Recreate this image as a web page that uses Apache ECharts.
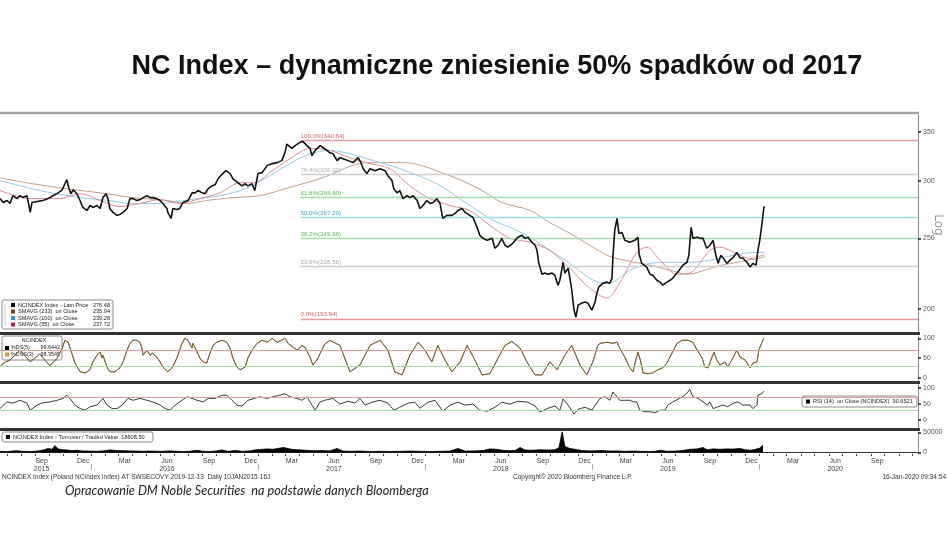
<!DOCTYPE html>
<html><head><meta charset="utf-8">
<script src="https://cdn.jsdelivr.net/npm/echarts@6/dist/echarts.min.js"></script>
<style>html,body{margin:0;padding:0;background:#fff}#c{width:948px;height:533px}</style>
</head><body><div id="c"></div><script>
// ---------- DATA ----------
const price = [
['2015-06-16',283.4],['2015-06-23',280.0],['2015-07-01',281.7],['2015-07-08',279.1],['2015-07-14',286.0],['2015-07-23',283.4],['2015-07-30',286.0],['2015-08-05',284.3],['2015-08-14',286.0],['2015-08-16',287.8],['2015-08-21',271.3],['2015-08-25',280.0],['2015-09-05',280.8],['2015-09-18',281.7],['2015-09-29',283.4],['2015-10-10',286.0],['2015-10-21',288.6],['2015-10-30',291.4],['2015-11-05',297.0],['2015-11-09',300.9],['2015-11-14',292.3],['2015-11-18',287.8],['2015-11-23',291.4],['2015-12-01',287.8],['2015-12-08',281.7],['2015-12-14',275.6],['2015-12-23',273.0],['2015-12-30',277.3],
['2016-01-05',275.6],['2016-01-14',277.3],['2016-01-21',274.7],['2016-01-27',284.3],['2016-02-03',287.8],['2016-02-07',283.4],['2016-02-11',274.7],['2016-02-18',271.3],['2016-02-27',268.8],['2016-03-04',269.6],['2016-03-11',271.3],['2016-03-20',274.7],['2016-03-26',283.4],['2016-04-02',283.4],['2016-04-10',281.7],['2016-04-17',282.5],['2016-04-24',284.3],['2016-05-02',286.0],['2016-05-09',284.3],['2016-05-15',284.3],['2016-05-24',283.4],['2016-05-31',281.7],['2016-06-06',279.1],['2016-06-15',274.7],['2016-06-17',271.3],['2016-06-24',266.3],['2016-06-28',274.7],['2016-07-07',273.8],['2016-07-13',274.7],['2016-07-20',280.0],['2016-07-24',281.7],['2016-07-31',281.7],['2016-08-09',288.6],['2016-08-15',288.6],['2016-08-22',290.7],['2016-08-31',288.6],['2016-09-06',287.8],['2016-09-13',292.3],['2016-09-21',295.0],['2016-09-28',296.0],['2016-10-05',301.9],['2016-10-15',306.7],['2016-10-22',309.5],['2016-10-31',306.7],['2016-11-06',301.9],['2016-11-17',298.0],['2016-11-26',295.0],['2016-12-03',297.0],['2016-12-09',295.0],['2016-12-18',297.0],['2016-12-24',290.7],['2016-12-31',306.7],
['2017-01-09',307.6],['2017-01-20',314.5],['2017-01-31',316.5],['2017-02-11',317.5],['2017-02-21',319.5],['2017-02-28',327.5],['2017-03-04',336.5],['2017-03-15',332.0],['2017-03-22',335.0],['2017-04-02',338.5],['2017-04-08',339.5],['2017-04-17',335.0],['2017-04-24',332.0],['2017-04-28',324.5],['2017-05-05',330.0],['2017-05-16',335.0],['2017-05-22',333.0],['2017-05-31',330.0],['2017-06-06',327.5],['2017-06-13',326.5],['2017-06-22',319.5],['2017-06-28',322.5],['2017-07-05',321.5],['2017-07-16',319.5],['2017-07-27',317.5],['2017-08-07',322.5],['2017-08-13',317.5],['2017-08-18',311.5],['2017-08-26',306.7],['2017-09-02',311.5],['2017-09-13',309.5],['2017-09-24',311.5],['2017-10-05',309.5],['2017-10-11',304.7],['2017-10-20',300.0],['2017-10-24',292.3],['2017-10-31',288.6],['2017-11-06',290.7],['2017-11-13',283.4],['2017-11-22',286.0],['2017-11-28',284.3],['2017-12-05',286.0],['2017-12-14',281.7],['2017-12-20',274.7],['2017-12-27',277.3],
['2018-01-04',281.7],['2018-01-11',279.1],['2018-01-18',280.0],['2018-01-26',283.4],['2018-02-02',279.1],['2018-02-08',266.3],['2018-02-17',268.8],['2018-02-28',268.8],['2018-03-07',270.5],['2018-03-13',273.0],['2018-03-22',274.7],['2018-03-29',271.3],['2018-04-08',268.8],['2018-04-15',267.1],['2018-04-24',258.8],['2018-04-30',252.4],['2018-05-07',250.0],['2018-05-16',248.4],['2018-05-27',250.0],['2018-06-02',242.3],['2018-06-09',244.6],['2018-06-17',250.0],['2018-06-24',244.6],['2018-06-30',243.1],['2018-07-11',246.1],['2018-07-22',250.8],['2018-07-31',252.4],['2018-08-07',250.0],['2018-08-13',250.8],['2018-08-22',246.9],['2018-08-29',244.6],['2018-09-02',240.7],['2018-09-06',231.0],['2018-09-13',223.2],['2018-09-19',224.0],['2018-09-26',223.2],['2018-10-05',224.0],['2018-10-11',222.5],['2018-10-18',215.6],['2018-10-22',219.0],['2018-10-29',231.8],['2018-11-02',224.0],['2018-11-09',227.5],['2018-11-13',220.5],['2018-11-17',212.3],['2018-11-22',199.3],['2018-11-26',195.0],['2018-12-01',202.5],['2018-12-09',203.8],['2018-12-16',204.5],['2018-12-22',203.8],['2018-12-31',199.3],
['2019-01-07',204.5],['2019-01-11',210.3],['2019-01-15',214.3],['2019-01-24',217.0],['2019-02-02',217.7],['2019-02-08',217.0],['2019-02-13',220.3],['2019-02-15',235.8],['2019-02-19',256.4],['2019-02-24',266.3],['2019-02-28',253.9],['2019-03-07',254.7],['2019-03-13',248.4],['2019-03-24',246.9],['2019-04-04',248.4],['2019-04-11',250.8],['2019-04-13',238.3],['2019-04-19',231.0],['2019-04-30',228.3],['2019-05-07',223.2],['2019-05-13',222.5],['2019-05-22',219.0],['2019-05-29',217.7],['2019-06-04',215.6],['2019-06-13',217.7],['2019-06-20',219.0],['2019-06-26',220.5],['2019-07-05',224.0],['2019-07-12',227.0],['2019-07-18',229.7],['2019-07-27',231.8],['2019-07-31',237.0],['2019-08-05',258.8],['2019-08-09',250.0],['2019-08-18',250.8],['2019-08-25',250.0],['2019-08-31',250.0],['2019-09-08',242.3],['2019-09-15',244.6],['2019-09-22',248.4],['2019-09-28',237.0],['2019-10-03',231.0],['2019-10-09',237.0],['2019-10-14',235.0],['2019-10-22',231.0],['2019-10-29',233.3],['2019-11-04',235.0],['2019-11-13',239.0],['2019-11-20',235.0],['2019-11-26',235.0],['2019-12-05',231.8],['2019-12-12',228.3],['2019-12-18',231.0],['2019-12-25',229.7],['2019-12-29',240.7],['2020-01-02',248.4],['2020-01-07',262.1],['2020-01-11',275.6],['2020-01-13',276.48]
];
const sma233 = [
['2015-06-16',302.5],['2015-08-27',297.0],['2015-11-09',292.3],['2016-01-21',288.6],['2016-04-02',284.3],['2016-06-15',281.7],['2016-07-29',279.1],['2016-09-10',281.7],['2016-11-06',284.3],['2017-01-04',286.0],['2017-03-07',293.2],['2017-05-20',302.5],['2017-07-24',314.5],['2017-08-28',317.5],['2017-10-11',317.5],['2017-11-17',317.5],['2017-12-24',314.5],['2018-02-06',307.6],['2018-03-22',300.0],['2018-05-05',290.7],['2018-06-17',280.0],['2018-08-18',273.0],['2018-09-30',262.7],['2018-11-13',254.0],['2018-12-26',244.6],['2019-02-08',236.2],['2019-03-24',232.5],['2019-05-07',229.7],['2019-06-20',226.0],['2019-07-27',223.2],['2019-09-30',228.8],['2019-11-13',231.8],['2019-12-27',234.5],['2020-01-13',235.94]
];
const sma100 = [
['2015-06-16',300.0],['2015-09-11',290.7],['2015-12-08',284.3],['2016-02-11',281.7],['2016-03-26',279.1],['2016-05-31',279.1],['2016-08-04',282.5],['2016-10-09',286.0],['2016-12-03',292.3],['2017-01-15',301.9],['2017-03-11',316.5],['2017-04-24',326.5],['2017-06-06',330.0],['2017-07-20',326.5],['2017-09-02',320.5],['2017-11-06',311.5],['2018-01-26',297.0],['2018-04-08',277.3],['2018-05-29',264.6],['2018-07-05',258.8],['2018-08-18',250.8],['2018-09-30',240.7],['2018-11-13',231.0],['2018-12-26',220.5],['2019-01-24',217.0],['2019-02-15',217.7],['2019-03-24',226.0],['2019-05-07',231.0],['2019-06-20',231.8],['2019-08-02',231.8],['2019-09-15',233.3],['2019-11-26',238.3],['2020-01-13',239.28]
];
const sma55 = [
['2015-06-16',290.7],['2015-08-21',283.4],['2015-10-25',283.4],['2015-12-08',287.8],['2016-01-21',281.7],['2016-03-04',276.4],['2016-04-17',279.1],['2016-05-31',282.5],['2016-07-13',279.1],['2016-08-26',283.4],['2016-10-09',288.6],['2016-11-22',298.0],['2016-12-24',298.0],['2017-01-26',307.6],['2017-03-11',321.5],['2017-04-24',332.0],['2017-06-06',330.0],['2017-07-20',322.5],['2017-09-02',316.5],['2017-10-16',311.5],['2017-11-28',295.0],['2018-01-11',283.4],['2018-02-24',277.3],['2018-04-08',273.0],['2018-05-22',260.4],['2018-07-05',250.0],['2018-08-18',246.9],['2018-09-30',240.7],['2018-11-13',227.5],['2018-12-26',213.6],['2019-02-02',207.0],['2019-03-02',217.0],['2019-04-08',239.0],['2019-04-30',243.1],['2019-05-29',233.3],['2019-07-05',223.2],['2019-08-02',224.0],['2019-09-15',240.7],['2019-10-07',243.1],['2019-11-13',238.3],['2019-12-12',234.5],['2020-01-13',237.72]
];
const stochDS = [
['2015-06-16',27],['2015-06-23',37],['2015-07-08',45],['2015-07-30',70],['2015-08-21',40],['2015-09-11',60],['2015-10-03',30],['2015-10-19',50],['2015-10-30',75],['2015-11-05',95],['2015-11-12',90],['2015-11-20',62],['2015-11-27',37],['2015-12-08',15],['2015-12-19',12],['2015-12-30',20],['2016-01-05',40],['2016-01-14',57],['2016-01-21',65],['2016-01-25',50],['2016-01-27',57],['2016-02-05',27],['2016-02-11',15],['2016-02-22',15],['2016-03-04',25],['2016-03-11',40],['2016-03-20',70],['2016-03-26',87],['2016-04-02',95],['2016-04-10',95],['2016-04-17',90],['2016-04-21',77],['2016-04-24',57],['2016-05-02',70],['2016-05-09',57],['2016-05-15',62],['2016-05-24',52],['2016-05-31',40],['2016-06-06',27],['2016-06-17',15],['2016-06-26',25],['2016-07-03',40],['2016-07-09',57],['2016-07-18',87],['2016-07-24',100],['2016-07-31',95],['2016-08-09',75],['2016-08-11',87],['2016-08-20',65],['2016-08-26',50],['2016-09-02',40],['2016-09-10',37],['2016-09-17',62],['2016-09-24',82],['2016-10-02',90],['2016-10-13',95],['2016-10-24',90],['2016-10-31',75],['2016-11-06',50],['2016-11-15',27],['2016-11-22',20],['2016-12-03',27],['2016-12-09',50],['2016-12-18',70],['2016-12-29',87],['2017-01-09',95],['2017-01-20',90],['2017-01-31',100],['2017-02-11',90],['2017-02-21',95],['2017-02-28',100],['2017-03-07',87],['2017-03-18',77],['2017-03-28',70],['2017-04-06',82],['2017-04-13',77],['2017-04-24',52],['2017-04-30',32],['2017-05-09',45],['2017-05-16',62],['2017-05-26',85],['2017-06-06',95],['2017-06-28',82],['2017-07-20',15],['2017-08-11',32],['2017-09-02',82],['2017-09-24',95],['2017-10-11',70],['2017-10-26',15],['2017-11-11',7],['2017-11-28',57],['2017-12-16',90],['2017-12-31',70],['2018-01-15',40],['2018-01-28',82],['2018-02-13',45],['2018-02-28',15],['2018-03-18',40],['2018-04-02',82],['2018-04-19',45],['2018-05-05',7],['2018-05-22',10],['2018-06-09',50],['2018-06-24',82],['2018-07-09',92],['2018-07-27',75],['2018-08-11',40],['2018-08-29',7],['2018-09-13',7],['2018-09-30',40],['2018-10-16',20],['2018-11-02',57],['2018-11-17',82],['2018-12-05',32],['2018-12-20',7],['2019-01-02',40],['2019-01-13',82],['2019-01-18',87],['2019-02-02',90],['2019-02-15',87],['2019-02-24',90],['2019-03-02',75],['2019-03-13',52],['2019-03-24',25],['2019-03-31',15],['2019-04-06',45],['2019-04-11',65],['2019-04-17',40],['2019-04-22',12],['2019-05-03',10],['2019-05-13',12],['2019-05-24',20],['2019-06-04',25],['2019-06-13',37],['2019-06-24',62],['2019-07-05',87],['2019-07-16',95],['2019-07-29',95],['2019-08-09',90],['2019-08-18',70],['2019-08-29',50],['2019-09-04',27],['2019-09-11',25],['2019-09-19',50],['2019-09-24',65],['2019-09-30',45],['2019-10-07',32],['2019-10-18',40],['2019-10-24',27],['2019-11-02',45],['2019-11-13',70],['2019-11-20',52],['2019-12-01',45],['2019-12-12',25],['2019-12-18',37],['2019-12-27',40],['2019-12-31',70],['2020-01-07',90],['2020-01-11',99.64]
];
const rsi14 = [
['2015-06-16',36],['2015-07-01',57],['2015-07-14',53],['2015-07-30',62],['2015-08-14',53],['2015-08-21',31],['2015-09-05',47],['2015-09-18',54],['2015-10-03',57],['2015-10-19',62],['2015-11-01',68],['2015-11-09',78],['2015-11-16',68],['2015-11-27',47],['2015-12-08',36],['2015-12-19',31],['2015-12-30',42],['2016-01-14',47],['2016-01-27',68],['2016-02-05',47],['2016-02-16',36],['2016-02-27',36],['2016-03-09',47],['2016-03-22',68],['2016-04-02',62],['2016-04-17',68],['2016-05-02',62],['2016-05-15',57],['2016-05-31',47],['2016-06-11',36],['2016-06-22',31],['2016-07-03',47],['2016-07-13',57],['2016-07-29',73],['2016-08-09',68],['2016-08-20',62],['2016-09-02',57],['2016-09-13',68],['2016-09-28',68],['2016-10-13',78],['2016-10-24',78],['2016-11-04',62],['2016-11-15',47],['2016-11-26',44],['2016-12-09',62],['2016-12-24',68],['2017-01-04',73],['2017-01-20',68],['2017-02-02',73],['2017-02-17',78],['2017-02-28',83],['2017-03-11',73],['2017-03-26',68],['2017-04-06',62],['2017-04-17',73],['2017-04-28',47],['2017-05-05',31],['2017-05-16',57],['2017-05-26',62],['2017-06-13',68],['2017-06-28',50],['2017-07-16',59],['2017-07-31',53],['2017-08-11',68],['2017-08-22',47],['2017-09-06',56],['2017-09-24',62],['2017-10-11',53],['2017-10-24',31],['2017-11-06',40],['2017-11-24',53],['2017-12-09',56],['2017-12-20',37],['2018-01-07',56],['2018-01-22',62],['2018-02-08',28],['2018-02-24',47],['2018-03-13',56],['2018-03-29',47],['2018-04-15',50],['2018-04-30',31],['2018-05-16',28],['2018-06-02',40],['2018-06-17',56],['2018-07-05',50],['2018-07-22',59],['2018-08-13',56],['2018-08-29',44],['2018-09-08',25],['2018-09-26',37],['2018-10-11',44],['2018-10-22',31],['2018-10-29',66],['2018-11-09',47],['2018-11-22',19],['2018-12-01',34],['2018-12-16',40],['2018-12-31',31],['2019-01-09',50],['2019-01-18',68],['2019-01-29',73],['2019-02-08',62],['2019-02-15',88],['2019-02-19',94],['2019-02-24',73],['2019-03-02',62],['2019-03-13',62],['2019-03-24',62],['2019-03-31',57],['2019-04-08',57],['2019-04-15',31],['2019-04-26',26],['2019-05-07',26],['2019-05-18',23],['2019-05-29',31],['2019-06-09',31],['2019-06-15',47],['2019-06-26',57],['2019-07-11',68],['2019-07-22',78],['2019-07-29',88],['2019-08-02',96],['2019-08-09',73],['2019-08-20',68],['2019-08-31',57],['2019-09-09',47],['2019-09-15',57],['2019-09-22',36],['2019-10-03',42],['2019-10-14',47],['2019-10-24',42],['2019-11-04',52],['2019-11-15',57],['2019-11-26',47],['2019-12-12',47],['2019-12-18',36],['2019-12-27',47],['2019-12-29',78],['2020-01-07',83],['2020-01-11',90.65]
];
const turnover = [
['2015-06-16',3000],['2015-06-27',2500],['2015-07-08',3000],['2015-07-23',4500],['2015-08-03',3000],['2015-08-21',2500],['2015-09-05',3500],['2015-09-18',6000],['2015-09-29',10000],['2015-10-08',8000],['2015-10-14',17500],['2015-10-21',9000],['2015-10-30',7000],['2015-11-09',6500],['2015-11-20',5000],['2015-12-01',5500],['2015-12-14',4000],['2015-12-30',3500],['2016-01-14',3000],['2016-01-27',4000],['2016-02-11',6500],['2016-02-27',5000],['2016-03-11',4500],['2016-03-26',4000],['2016-04-10',3500],['2016-04-24',3000],['2016-05-09',3500],['2016-05-24',3000],['2016-06-06',3000],['2016-06-22',4000],['2016-07-07',3000],['2016-07-20',2500],['2016-08-04',3000],['2016-08-20',5500],['2016-09-02',3000],['2016-09-17',2500],['2016-10-02',4000],['2016-10-13',6500],['2016-10-26',3000],['2016-11-11',5000],['2016-11-26',3000],['2016-12-14',4000],['2016-12-24',6500],['2017-01-04',7500],['2017-01-20',9000],['2017-02-02',8000],['2017-02-17',11000],['2017-02-26',12500],['2017-03-04',10500],['2017-03-15',8000],['2017-03-26',7000],['2017-04-08',6000],['2017-04-24',5000],['2017-05-09',4500],['2017-05-22',5000],['2017-06-06',4000],['2017-06-22',10000],['2017-07-05',3500],['2017-07-20',3000],['2017-08-11',3500],['2017-09-02',2500],['2017-09-24',3000],['2017-10-16',2500],['2017-11-06',3000],['2017-11-28',3500],['2017-12-20',3000],['2018-01-11',2500],['2018-02-02',3000],['2018-02-24',3500],['2018-03-13',10000],['2018-03-29',3500],['2018-04-19',4000],['2018-05-07',5000],['2018-05-22',9000],['2018-06-06',8000],['2018-06-19',5500],['2018-07-05',4500],['2018-07-16',5000],['2018-07-27',12500],['2018-08-07',6000],['2018-08-22',5500],['2018-09-08',7000],['2018-09-26',6000],['2018-10-11',7000],['2018-10-20',12000],['2018-10-27',52000],['2018-11-02',15000],['2018-11-13',10000],['2018-11-24',8000],['2018-12-09',5000],['2018-12-26',4000],['2019-01-11',4500],['2019-01-24',5000],['2019-02-08',3500],['2019-02-24',4000],['2019-03-13',3000],['2019-03-31',3500],['2019-04-15',3000],['2019-05-03',2500],['2019-05-18',3000],['2019-05-29',5500],['2019-06-13',3000],['2019-07-01',3500],['2019-07-18',5000],['2019-08-02',8000],['2019-08-18',9000],['2019-08-31',12500],['2019-09-09',7000],['2019-09-22',9000],['2019-10-07',8000],['2019-10-22',9000],['2019-11-04',8500],['2019-11-20',10000],['2019-12-01',7000],['2019-12-12',5500],['2019-12-22',7500],['2020-01-02',11000],['2020-01-09',18608.5]
];
const fibLevels = [340.64, 306.02, 284.60, 267.29, 249.98, 228.56, 193.94];
const fibNames = ['100.0%', '76.4%', '61.8%', '50.0%', '38.2%', '23.6%', '0.0%'];
const fibStart = '2017-04-03';
const priceTicks = [200, 250, 300, 350];
const oscTicks = [0, 50, 100];
const volTicks = [0, 50000];
const oscLevels = [70, 30];
const monthLabelDates = ['2015-09-15','2015-12-15','2016-03-15','2016-06-15','2016-09-15','2016-12-15','2017-03-15','2017-06-15','2017-09-15','2017-12-15','2018-03-15','2018-06-15','2018-09-15','2018-12-15','2019-03-15','2019-06-15','2019-09-15','2019-12-15','2020-03-15','2020-06-15','2020-09-15'];
const monthLabels = ['Sep\n2015','Dec','Mar','Jun\n2016','Sep','Dec','Mar','Jun\n2017','Sep','Dec','Mar','Jun\n2018','Sep','Dec','Mar','Jun\n2019','Sep','Dec','Mar','Jun\n2020','Sep'];
const yearStarts = ['2016-01-01','2017-01-01','2018-01-01','2019-01-01','2020-01-01'];
const xMin = '2015-06-16', xMax = '2020-12-13';

// ---------- CHART ----------
const T = s => echarts.number.parseDate(s).getTime();
const monthStarts = [];
for (let y = 2015; y <= 2020; y++) for (let m = 1; m <= 12; m++) {
  const s = y + '-' + String(m).padStart(2, '0') + '-01';
  if (s > xMin && s <= xMax) monthStarts.push(T(s));
}
const labelTimes = monthLabelDates.map(T);
const SMALL = 'Liberation Sans';
const fibLine = ['#e3a0a0', '#cfcfcf', '#a6dca6', '#a2dce8', '#a6dca6', '#cfcfcf', '#e89a9a'];
const fibText = ['#d06060', '#b0b0b0', '#55b855', '#3aa8d8', '#55b855', '#a8a8a8', '#e06060'];

const chart = echarts.init(document.getElementById('c'), null, {renderer: 'canvas', width: 948, height: 533});
const grids = [
  {left: 0, width: 918, top: 115, height: 217},
  {left: 0, width: 918, top: 336, height: 45},
  {left: 0, width: 918, top: 385, height: 43},
  {left: 0, width: 918, top: 432, height: 22}
];
const hiddenX = i => ({type: 'time', gridIndex: i, min: xMin, max: xMax, show: false});
const rightY = (gi, type, min, max, vals, extra) => Object.assign({
  type, gridIndex: gi, position: 'right', min, max,
  axisLine: {show: true, lineStyle: {color: '#8a8a8a', width: 1}},
  axisTick: {show: true, customValues: vals, length: 3, inside: false, lineStyle: {color: '#222', width: 1.5}},
  axisLabel: {show: true, customValues: vals, fontSize: 7, color: '#555', margin: 5, fontFamily: SMALL, formatter: v => String(v)},
  splitLine: {show: false}
}, extra || {});
const levelLines = {
  silent: true, symbol: ['none', 'none'], animation: false, label: {show: false},
  data: [
    {yAxis: oscLevels[0], lineStyle: {color: '#ec9a9a', width: 1, type: 'solid'}},
    {yAxis: oscLevels[1], lineStyle: {color: '#a6dca6', width: 1, type: 'solid'}}
  ]
};
const line = (name, data, xi, color, w, extra) => Object.assign({
  name, type: 'line', data, xAxisIndex: xi, yAxisIndex: xi, symbol: 'none', showSymbol: false,
  lineStyle: {color, width: w}, itemStyle: {color}, animation: false
}, extra || {});
const txt = (x, y, text, size, extra) => ({type: 'text', x, y, style: Object.assign({text, font: size + 'px ' + SMALL, fill: '#222', verticalAlign: 'middle'}, extra || {})});

chart.setOption({
  animation: false,
  backgroundColor: '#fff',
  grid: grids,
  xAxis: [hiddenX(0), hiddenX(1), hiddenX(2),
    {type: 'time', gridIndex: 3, min: xMin, max: xMax,
      axisLine: {show: true, lineStyle: {color: '#333', width: 1}},
      axisTick: {show: false}, axisLabel: {show: false}, splitLine: {show: false}},
    {type: 'value', gridIndex: 3, min: T(xMin), max: T(xMax), position: 'bottom',
      axisLine: {show: false},
      axisTick: {show: true, customValues: monthStarts, length: 2, lineStyle: {color: '#444'}},
      axisLabel: {show: true, customValues: labelTimes, fontSize: 7, lineHeight: 8, color: '#444', margin: 3, fontFamily: SMALL,
        formatter: v => { let best = -1, bd = 1e15; labelTimes.forEach((t, i) => { const d = Math.abs(t - v); if (d < bd) { bd = d; best = i; } }); return bd < 86400000 * 2 ? monthLabels[best] : ''; }},
      splitLine: {show: false}},
    {type: 'value', gridIndex: 3, min: T(xMin), max: T(xMax), position: 'bottom', offset: 10,
      axisLine: {show: false}, axisLabel: {show: false}, splitLine: {show: false},
      axisTick: {show: true, customValues: yearStarts.map(T), length: 6, lineStyle: {color: '#aaa', width: 1}}}
  ],
  yAxis: [
    rightY(0, 'log', 186, 369, priceTicks, {logBase: 10}),
    rightY(1, 'value', -8.4, 105.8, oscTicks),
    rightY(2, 'value', -25, 110, oscTicks),
    rightY(3, 'value', -3750, 51250, volTicks)
  ],
  series: [
    line('SMAVG (233)', sma233, 0, '#c49e86', 1, {smooth: 0.3}),
    line('SMAVG (100)', sma100, 0, '#93c9e8', 1, {smooth: 0.3}),
    line('SMAVG (55)', sma55, 0, '#dd8c98', 1, {smooth: 0.3}),
    line('NCINDEX Index - Last Price', price, 0, '#111', 1.6, {z: 5,
      markLine: {silent: true, symbol: ['none', 'none'], animation: false,
        data: fibLevels.map((v, i) => [
          {coord: [T(fibStart), v], lineStyle: {color: fibLine[i], width: 1.3, type: 'solid'},
            label: {show: true, position: 'insideStartTop', distance: [0, 1], formatter: fibNames[i] + '(' + v.toFixed(2) + ')',
              color: fibText[i], fontSize: 6.2, fontFamily: SMALL}},
          {coord: [T(xMax), v]}
        ])}}),
    line('%DS(5)', stochDS, 1, '#222', 1, {markLine: levelLines}),
    line('%DSS(3)', stochDS, 1, '#d08a2a', 1, {lineStyle: {color: '#c98a2a', width: 1, opacity: 0.6}}),
    line('RSI (14)', rsi14, 2, '#222', 0.9, {markLine: levelLines}),
    line('Turnover', turnover, 3, '#000', 0.8, {areaStyle: {color: '#000', opacity: 1}})
  ],
  graphic: [
    {type: 'text', x: 497, y: 67, style: {text: 'NC Index – dynamiczne zniesienie 50% spadków od 2017', font: 'bold 27px "Liberation Sans"', fill: '#111', align: 'center', verticalAlign: 'middle'}},
    {type: 'line', shape: {x1: 0, y1: 113, x2: 919, y2: 113}, style: {stroke: '#a4a4a4', lineWidth: 2.5}},
    {type: 'line', shape: {x1: 0, y1: 333.5, x2: 920, y2: 333.5}, style: {stroke: '#333', lineWidth: 3}},
    {type: 'line', shape: {x1: 0, y1: 382.5, x2: 920, y2: 382.5}, style: {stroke: '#333', lineWidth: 3}},
    {type: 'line', shape: {x1: 0, y1: 429.5, x2: 920, y2: 429.5}, style: {stroke: '#333', lineWidth: 3}},
    {type: 'text', x: 938, y: 225, rotation: -Math.PI / 2, style: {text: 'Log', font: '12px "DejaVu Sans"', fill: '#9a9a9a', align: 'center', verticalAlign: 'middle'}},
    {type: 'group', x: 2, y: 300, children: [
      {type: 'rect', shape: {x: 0, y: 0, width: 111, height: 29, r: 2}, style: {fill: '#fff', stroke: '#8a8a8a', lineWidth: 1}},
      {type: 'line', shape: {x1: 3, y1: 4, x2: 3, y2: 26}, style: {stroke: '#ccc', lineWidth: 1}},
      {type: 'rect', shape: {x: 9, y: 3, width: 4, height: 4}, style: {fill: '#000'}},
      {type: 'rect', shape: {x: 9, y: 9.5, width: 4, height: 4}, style: {fill: '#7a3b12'}},
      {type: 'rect', shape: {x: 9, y: 16, width: 4, height: 4}, style: {fill: '#3d8fd6'}},
      {type: 'rect', shape: {x: 9, y: 22.5, width: 4, height: 4}, style: {fill: '#c8204a'}},
      txt(16, 5, 'NCINDEX Index - Last Price', 5.6), txt(16, 11.5, 'SMAVG (233)  on Close', 5.6),
      txt(16, 18, 'SMAVG (100)  on Close', 5.6), txt(16, 24.5, 'SMAVG (55)  on Close', 5.6),
      txt(108, 5, '276.48', 5.6, {align: 'right'}), txt(108, 11.5, '235.94', 5.6, {align: 'right'}),
      txt(108, 18, '239.28', 5.6, {align: 'right'}), txt(108, 24.5, '237.72', 5.6, {align: 'right'})
    ]},
    {type: 'group', x: 2, y: 336, children: [
      {type: 'rect', shape: {x: 0, y: 0, width: 60, height: 24, r: 2}, style: {fill: '#fff', stroke: '#8a8a8a', lineWidth: 1}},
      txt(32, 5, 'NCINDEX', 5.4, {align: 'center'}),
      {type: 'rect', shape: {x: 3, y: 10, width: 4, height: 4}, style: {fill: '#000'}},
      {type: 'rect', shape: {x: 3, y: 16.5, width: 4, height: 4}, style: {fill: '#e69138'}},
      txt(9, 12, '%DS(5)', 5.4), txt(9, 18.5, '%DSS(3)', 5.4),
      txt(58, 12, '99.6442', 5.4, {align: 'right'}), txt(58, 18.5, '98.3545', 5.4, {align: 'right'})
    ]},
    {type: 'group', x: 802, y: 396, children: [
      {type: 'rect', shape: {x: 0, y: 0, width: 115, height: 11, r: 2}, style: {fill: '#fff', stroke: '#8a8a8a', lineWidth: 1}},
      {type: 'rect', shape: {x: 4, y: 3.5, width: 4, height: 4}, style: {fill: '#000'}},
      txt(11, 5.5, 'RSI (14)  on Close (NCINDEX)  90.6521', 5.6)
    ]},
    {type: 'group', x: 2, y: 432, children: [
      {type: 'rect', shape: {x: 0, y: 0, width: 151, height: 10, r: 2}, style: {fill: '#fff', stroke: '#8a8a8a', lineWidth: 1}},
      {type: 'rect', shape: {x: 4, y: 3, width: 4, height: 4}, style: {fill: '#000'}},
      txt(11, 5, 'NCINDEX Index - Turnover / Traded Value  18608.50', 5.6)
    ]},
    txt(2, 477, 'NCINDEX Index (Poland NCIndex index) AT SWSECOVY 2019-12-13  Daily 10JAN2015-16J', 6.5, {fill: '#333'}),
    txt(513, 477, 'Copyright© 2020 Bloomberg Finance L.P.', 6.5, {fill: '#333'}),
    txt(946, 477, '16-Jan-2020 09:34:54', 6.5, {fill: '#333', align: 'right'}),
    {type: 'text', x: 65, y: 491, style: {text: 'Opracowanie DM Noble Securities  na podstawie danych Bloomberga', font: 'italic 12.7px Lato', fill: '#222', verticalAlign: 'middle'}}
  ]
});
</script></body></html>
